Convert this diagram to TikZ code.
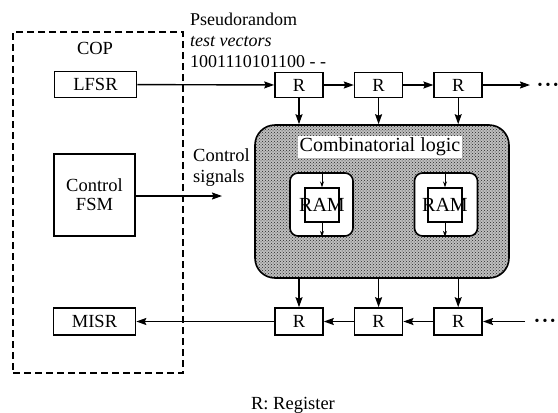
\documentclass[tikz,border=0pt]{standalone}
\usepackage{fontspec}
\setmainfont{Liberation Serif}
\usetikzlibrary{arrows.meta,patterns,positioning}
\tikzset{
  lbl/.style={
    inner sep=0pt,
    font=\fontsize{18.5}{21}\selectfont
  },
  big/.style={
    inner sep=0pt,
    font=\fontsize{20}{21}\selectfont
  },
  blk/.style={
    draw,
    line width=1.6pt,
    inner sep=0pt,
    align=center,
    font=\fontsize{18.5}{21}\selectfont
  },
  reg/.style={
    blk,
    minimum width=48pt,
    minimum height=25pt
  },
  unit/.style={
    blk,
    minimum width=82pt,
    minimum height=26pt
  },
  copbox/.style={
    draw,
    dashed,
    dash pattern=on 7pt off 4pt,
    line width=1.3pt,
    minimum width=170pt,
    minimum height=341pt
  },
  logicbox/.style={
    draw,
    line width=1.6pt,
    rounded corners=20pt,
    preaction={fill=black!25},
    pattern=crosshatch dots,
    pattern color=black!85,
    minimum width=254pt,
    minimum height=153pt
  },
  ramouter/.style={
    draw,
    fill=white,
    line width=1.6pt,
    rounded corners=8pt,
    minimum width=63pt,
    minimum height=63pt
  },
  raminner/.style={
    draw,
    line width=1.3pt,
    minimum width=34pt,
    minimum height=34pt
  },
  arrow/.style={
    -{Stealth[length=10pt,width=7pt,inset=1.5pt]},
    line width=1.4pt
  },
  tiny/.style={
    -{Stealth[length=6pt,width=4pt]},
    line width=1pt
  },
  dots/.style={
    inner sep=0pt,
    font=\fontsize{14}{14}\selectfont
  }
}
\newcommand{\moredots}{\textbullet\hspace{3pt}\textbullet\hspace{3pt}\textbullet}

\begin{document}
\begin{tikzpicture}[x=1pt,y=-1pt,node distance=30pt]
\useasboundingbox (0,0) rectangle (558,413);

% COP with its three blocks
\node[copbox] (cop) at (98,202.5) {};
\node[lbl] (coplbl) at (95,48) {COP};
\node[unit] (lfsr) at (95.5,84.5) {LFSR};
\node[blk,minimum width=81pt,minimum height=82pt] (fsm) at (94.5,195) {Control\\[-2pt]FSM};
\node[unit,minimum height=27pt] (misr) at (94.5,321.5) {MISR};

% circuit under test
\node[logicbox] (logic) at (382,201.5) {};
\node[big,fill=white,inner sep=1.5pt] (title) at (380,147) {Combinatorial logic};
\node[ramouter] (ramA) at (321.5,204.5) {};
\node[raminner] (ramAin) at (322,205) {};
\node[big] at (ramAin) {RAM};
\node[ramouter] (ramB) at (446,204.5) {};
\node[raminner] (ramBin) at (445,205) {};
\node[big] at (ramBin) {RAM};
\draw[tiny] (ramAin |- ramA.north) -- (ramAin.north);
\draw[tiny] (ramAin.south) -- (ramAin |- ramA.south);
\draw[tiny] (ramBin |- ramB.north) -- (ramBin.north);
\draw[tiny] (ramBin.south) -- (ramBin |- ramB.south);

% input scan chain
\node[reg] (r1) at (299,85) {R};
\node[reg,right=of r1] (r2) {R};
\node[reg,right=of r2] (r3) {R};
\coordinate (rend) at (530,85);
\node[dots] (rdots) at (548,86) {\moredots};

% output scan chain
\node[reg,minimum height=27pt] (b1) at (299,321.5) {R};
\node[reg,minimum height=27pt,right=of b1] (b2) {R};
\node[reg,minimum height=27pt,right=of b2] (b3) {R};
\coordinate (bstart) at (525,321.5);
\node[dots] (bdots) at (545,322) {\moredots};

\coordinate (ctl) at (222,196);

\draw[arrow] (lfsr) -- (r1);
\draw[arrow] (r1) -- (r2);
\draw[arrow] (r2) -- (r3);
\draw[arrow] (r3) -- (rend);
\foreach \r in {r1,r2,r3}
  \draw[arrow] (\r.south) -- (\r |- logic.north);
\foreach \r in {b1,b2,b3}
  \draw[arrow] (\r |- logic.south) -- (\r.north);
\draw[arrow] (bstart) -- (b3);
\draw[arrow] (b3) -- (b2);
\draw[arrow] (b2) -- (b1);
\draw[arrow] (b1) -- (misr);
\draw[arrow] (fsm.east |- ctl) -- (ctl);

% labels
\node[lbl,anchor=north west,align=left,font=\fontsize{18}{21}\selectfont] (vec) at (190,13) {Pseudorandom\\\textit{test vectors}\\1001110101100 - -};
\node[lbl,anchor=north west,align=left] (sig) at (193,148) {Control\\signals};
\node[lbl] (key) at (293,405) {R: Register};
\end{tikzpicture}
\end{document}
